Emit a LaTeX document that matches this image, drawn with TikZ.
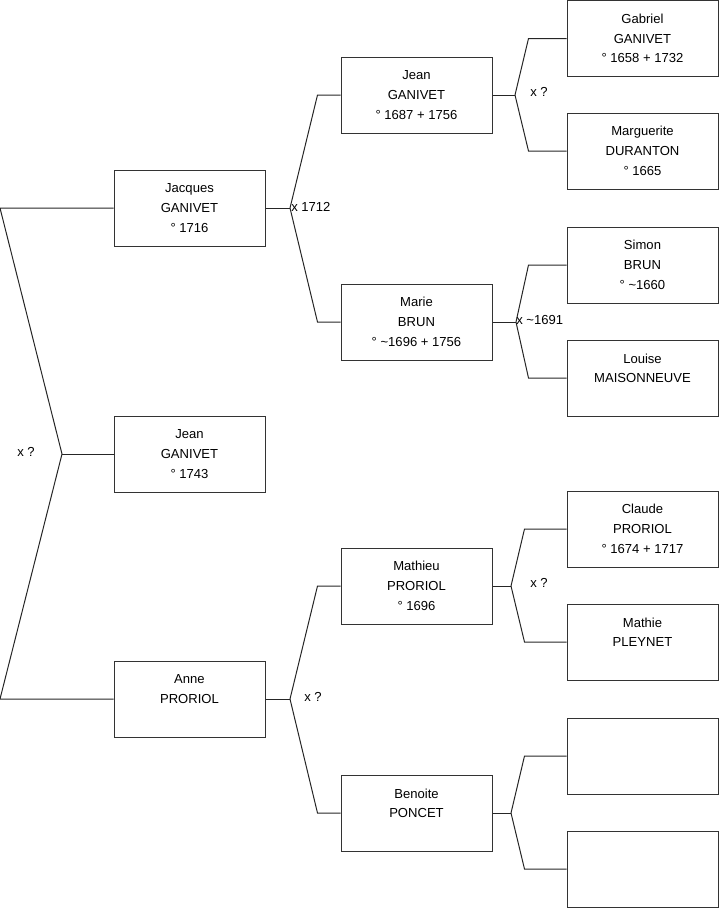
\documentclass[tikz,border=0pt]{standalone}
\usepackage{fontspec}
\setmainfont{Liberation Sans}
\usetikzlibrary{positioning, calc}

\tikzset{
  person/.style={draw=black!80, line width=0.75pt, fill=white,
    minimum width=113.25pt, minimum height=57pt, inner sep=0pt,
    align=center, font=\fontsize{9.8}{14.8}\selectfont},
  link/.style={draw=black!85, line width=0.75pt},
  union/.style={inner sep=0pt, font=\fontsize{9.8}{14.8}\selectfont}
}

\begin{document}
\begin{tikzpicture}[x=0.75pt, y=-0.75pt]

    \useasboundingbox (0,0) rectangle (719,908);

    % --- Generation 1 ---
    \node[person] (jacques) at (189.5,208) {Jacques\\GANIVET\\° 1716};
    \node[person] (jeanB)   at (189.5,454) {Jean\\GANIVET\\° 1743};
    \node[person] (anne)    at (189.5,699) {Anne\\PRORIOL\\~};

    % --- Generation 2 ---
    \node[person] (jeanF)   at (416.5,95)  {Jean\\GANIVET\\° 1687 + 1756};
    \node[person] (marie)   at (416.5,322) {Marie\\BRUN\\° \textasciitilde1696 + 1756};
    \node[person] (mathieu) at (416.5,586) {Mathieu\\PRORIOL\\° 1696};
    \node[person] (benoite) at (416.5,813) {Benoite\\PONCET\\~};

    % --- Generation 3 ---
    \node[person] (gabriel)    at (642.5,38.5) {Gabriel\\GANIVET\\° 1658 + 1732};
    \node[person] (marguerite) at (642.5,151)  {Marguerite\\DURANTON\\° 1665};
    \node[person] (simon)      at (642.5,265)  {Simon\\BRUN\\° \textasciitilde1660};
    \node[person] (louise)     at (642.5,378)  {Louise\\MAISONNEUVE\\~};
    \node[person] (claude)     at (642.5,529)  {Claude\\PRORIOL\\° 1674 + 1717};
    \node[person] (mathie)     at (642.5,642)  {Mathie\\PLEYNET\\~};
    \node[person] (emptyA)     at (642.5,756)  {};
    \node[person] (emptyB)     at (642.5,869)  {};

    % --- Leftmost bracket (Jean's parents) ---
    \coordinate (rootTop) at (0,208);
    \coordinate (root)    at (62,454);
    \coordinate (rootBot) at (0,699);
    \draw[link] (jacques.west) -- (rootTop) -- (root) -- (rootBot) -- (anne.west);
    \draw[link] (root) -- (jeanB.west);
    \node[union, anchor=east] (uRoot) at ($(root)+(-27,-2)$) {x ?};

    % --- Jacques' parents ---
    \coordinate (fJacques) at (290,208);
    \draw[link] (jacques.east) -- (fJacques);
    \draw[link] (fJacques) -- ($(jeanF.west)+(-23,0)$) -- (jeanF.west);
    \draw[link] (fJacques) -- ($(marie.west)+(-23,0)$) -- (marie.west);
    \node[union, anchor=west] (uJacques) at ($(fJacques)+(1,-1)$) {x 1712};

    % --- Anne's parents ---
    \coordinate (fAnne) at (290,699);
    \draw[link] (anne.east) -- (fAnne);
    \draw[link] (fAnne) -- ($(mathieu.west)+(-23,0)$) -- (mathieu.west);
    \draw[link] (fAnne) -- ($(benoite.west)+(-23,0)$) -- (benoite.west);
    \node[union, anchor=west] (uAnne) at ($(fAnne)+(14,-2)$) {x ?};

    % --- Jean's parents ---
    \coordinate (fJean) at (515,95);
    \draw[link] (jeanF.east) -- (fJean);
    \draw[link] (fJean) -- ($(gabriel.west)+(-38,0)$) -- (gabriel.west);
    \draw[link] (fJean) -- ($(marguerite.west)+(-38,0)$) -- (marguerite.west);
    \node[union, anchor=west] (uJean) at ($(fJean)+(15,-3)$) {x ?};

    % --- Marie's parents ---
    \coordinate (fMarie) at (516,322);
    \draw[link] (marie.east) -- (fMarie);
    \draw[link] (fMarie) -- ($(simon.west)+(-38,0)$) -- (simon.west);
    \draw[link] (fMarie) -- ($(louise.west)+(-38,0)$) -- (louise.west);
    \node[union, anchor=west] (uMarie) at ($(fMarie)+(0,-2)$) {x \textasciitilde1691};

    % --- Mathieu's parents ---
    \coordinate (fMathieu) at (511,586);
    \draw[link] (mathieu.east) -- (fMathieu);
    \draw[link] (fMathieu) -- ($(claude.west)+(-42,0)$) -- (claude.west);
    \draw[link] (fMathieu) -- ($(mathie.west)+(-42,0)$) -- (mathie.west);
    \node[union, anchor=west] (uMathieu) at ($(fMathieu)+(19,-3)$) {x ?};

    % --- Benoite's parents ---
    \coordinate (fBenoite) at (511,813);
    \draw[link] (benoite.east) -- (fBenoite);
    \draw[link] (fBenoite) -- ($(emptyA.west)+(-42,0)$) -- (emptyA.west);
    \draw[link] (fBenoite) -- ($(emptyB.west)+(-42,0)$) -- (emptyB.west);

\end{tikzpicture}
\end{document}
